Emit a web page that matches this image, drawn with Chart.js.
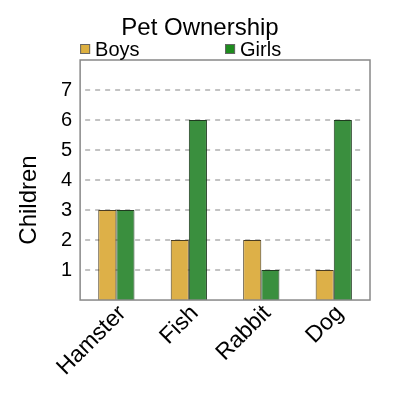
<!DOCTYPE html>
<html>
<head>
<meta charset="utf-8">
<script src="https://cdn.jsdelivr.net/npm/chart.js@4"></script>
<style>
  html, body { margin: 0; padding: 0; background: #fff; }
</style>
</head>
<body>
<canvas id="myChart" width="400" height="400"></canvas>
<script>
// pet ownership - grouped bars

const pets = ['Hamster', 'Fish', 'Rabbit', 'Dog'];
const boys = [3, 2, 2, 1];
const girls = [3, 6, 1, 6];
const yTicks = [1, 2, 3, 4, 5, 6, 7];

const FONT = 'Liberation Sans, Arial, sans-serif';
const TITLE = 'Pet Ownership';
const Y_TITLE = 'Children';

// dashed grid lines, a bit shorter than the plot box
const insetGrid = {
  id: 'insetGrid',
  beforeDatasetsDraw(chart) {
    const { ctx, chartArea, scales } = chart;
    ctx.save();
    ctx.strokeStyle = '#bdbdbd';
    ctx.lineWidth = 1.8;
    ctx.setLineDash([5, 5]);
    yTicks.forEach(v => {
      const y = Math.round(scales.y.getPixelForValue(v));
      ctx.beginPath();
      ctx.moveTo(chartArea.left + 5, y);
      ctx.lineTo(chartArea.right - 9, y);
      ctx.stroke();
    });
    ctx.restore();
  }
};

// title centred on the page, legend spread over the plot box, y title, frame
const header = {
  id: 'header',
  afterDraw(chart) {
    const { ctx, chartArea, width } = chart;
    ctx.save();
    // frame around plot
    ctx.strokeStyle = '#888';
    ctx.lineWidth = 1.5;
    ctx.strokeRect(chartArea.left, chartArea.top, chartArea.right - chartArea.left, chartArea.bottom - chartArea.top);

    ctx.fillStyle = '#000';
    ctx.textBaseline = 'middle';
    ctx.textAlign = 'center';
    ctx.font = '24px ' + FONT;
    ctx.fillText(TITLE, width / 2, 28);

    // y axis title
    ctx.save();
    ctx.translate(29, 200);
    ctx.rotate(-Math.PI / 2);
    ctx.fillText(Y_TITLE, 0, 0);
    ctx.restore();

    const colW = (chartArea.right - chartArea.left) / 2;
    chart.data.datasets.forEach((ds, i) => {
      const x = chartArea.left + i * colW;
      const y = chartArea.top - 11;
      ctx.fillStyle = ds.legendColor;
      ctx.fillRect(x, y - 5, 10, 10);
      ctx.strokeStyle = '#666';
      ctx.lineWidth = 1;
      ctx.strokeRect(x + 0.5, y - 4.5, 9, 9);
      ctx.fillStyle = '#000';
      ctx.font = '20px ' + FONT;
      ctx.textAlign = 'left';
      ctx.fillText(ds.label, x + 15, y + 1);
    });
    ctx.restore();
  }
};

const ctx = document.getElementById('myChart').getContext('2d');

new Chart(ctx, {
  type: 'bar',
  data: {
    labels: pets,
    datasets: [
      {
        label: 'Boys',
        data: boys,
        backgroundColor: 'rgb(221, 176, 72)',
        borderColor: '#4a3d22',
        borderWidth: 1,
        legendColor: '#DDB040',
        categoryPercentage: 0.5,
        barPercentage: 1.0
      },
      {
        label: 'Girls',
        data: girls,
        backgroundColor: 'rgb(58, 143, 62)',
        borderColor: '#1f3a1f',
        borderWidth: 1,
        legendColor: '#1E8C1E',
        categoryPercentage: 0.5,
        barPercentage: 1.0
      }
    ]
  },
  options: {
    responsive: false,
    animation: false,
    devicePixelRatio: 1,
    layout: {
      padding: { left: 53, right: 30, top: 60, bottom: 19 }
    },
    plugins: {
      legend: { display: false },
      tooltip: { enabled: false },
      title: { display: false }
    },
    scales: {
      x: {
        grid: { display: false, drawTicks: false },
        border: { display: false },
        ticks: {
          color: '#000',
          font: { family: FONT, size: 23 },
          maxRotation: 45,
          minRotation: 45,
          padding: 0,
          labelOffset: 6
        }
      },
      y: {
        min: 0,
        max: 8,
        grid: { display: false, drawTicks: false },
        border: { display: false },
        ticks: {
          stepSize: 1,
          color: '#000',
          font: { family: FONT, size: 20 },
          padding: 8,
          callback: v => (yTicks.includes(v) ? v : '')
        }
      }
    }
  },
  plugins: [insetGrid, header]
});
</script>
</body>
</html>
